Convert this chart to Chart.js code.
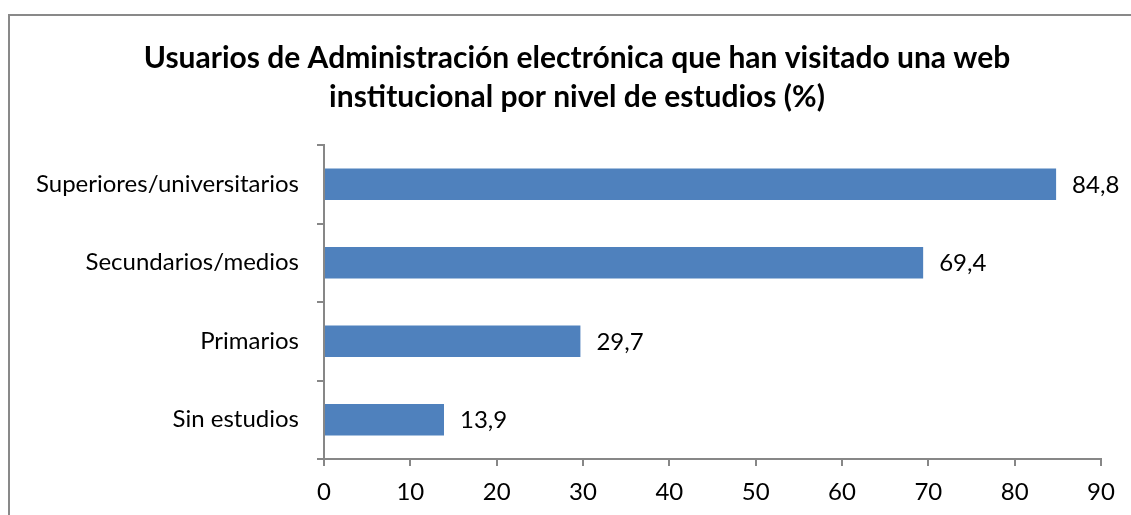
<!DOCTYPE html>
<html>
<head>
<meta charset="utf-8">
<script src="https://cdn.jsdelivr.net/npm/chart.js@4/dist/chart.umd.min.js"></script>
<style>
  html, body { margin: 0; padding: 0; background: #fff; }
  #wrap { position: relative; width: 1131px; height: 515px; overflow: hidden; }
  #frame {
    position: absolute; left: 8px; top: 14px; width: 1200px; height: 600px;
    border-left: 2px solid #898989; border-top: 2px solid #898989;
    pointer-events: none;
  }
  canvas { position: absolute; left: 0; top: 0; }
</style>
</head>
<body>
<div id="wrap">
  <canvas id="chart" width="1131" height="515"></canvas>
  <div id="frame"></div>
</div>
<script>
// datos
const categorias = ["Superiores/universitarios", "Secundarios/medios", "Primarios", "Sin estudios"];
const valores = [84.8, 69.4, 29.7, 13.9];
const tituloLineas = ["Usuarios de Administración electrónica que han visitado una web", "institucional por nivel de estudios (%)"];
const ejeX = { min: 0, max: 90, paso: 10 };

const FONT = "Lato, 'Open Sans', sans-serif";
const GRIS = "#878787";

// titulo centrado sobre el grafico
const tituloPlugin = {
  id: "titulo",
  afterDraw(chart) {
    const ctx = chart.ctx;
    ctx.save();
    ctx.font = "bold 30px " + FONT;
    ctx.fillStyle = "#000";
    ctx.textAlign = "center";
    ctx.textBaseline = "middle";
    ctx.fillText(tituloLineas[0], 577, 58);
    ctx.fillText(tituloLineas[1], 577, 97);
    ctx.restore();
  }
};

// etiquetas de valor al final de cada barra
const etiquetasPlugin = {
  id: "etiquetas",
  afterDatasetsDraw(chart) {
    const ctx = chart.ctx;
    const meta = chart.getDatasetMeta(0);
    ctx.save();
    ctx.font = "24px " + FONT;
    ctx.fillStyle = "#000";
    ctx.textAlign = "left";
    ctx.textBaseline = "middle";
    meta.data.forEach(function (bar, i) {
      ctx.fillText(valores[i].toFixed(1).replace(".", ","), bar.x + 16, bar.y + 1);
    });
    ctx.restore();
  }
};

const ctx = document.getElementById("chart").getContext("2d");
new Chart(ctx, {
  type: "bar",
  data: {
    labels: categorias,
    datasets: [
      {
        data: valores,
        backgroundColor: "#4F81BD",
        borderWidth: 0,
        barPercentage: 0.4,
        categoryPercentage: 1.0,
      },
    ],
  },
  options: {
    indexAxis: "y",
    responsive: false,
    animation: false,
    layout: { padding: { top: 145, right: 30, bottom: 0, left: 0 } },
    plugins: {
      legend: { display: false },
      title: { display: false },
      tooltip: { enabled: false },
    },
    scales: {
      x: {
        min: ejeX.min,
        max: ejeX.max,
        ticks: {
          stepSize: ejeX.paso,
          color: "#000",
          font: { family: FONT, size: 24 },
          padding: 12,
        },
        grid: {
          drawOnChartArea: false,
          drawTicks: true,
          tickLength: 7,
          color: GRIS,
          lineWidth: 2,
        },
        border: { display: true, color: GRIS, width: 2 },
        afterFit(scale) { scale.height = 56; },
      },
      y: {
        ticks: {
          color: "#000",
          font: { family: FONT, size: 24 },
          padding: 18,
        },
        grid: {
          offset: true,
          drawOnChartArea: false,
          drawTicks: true,
          tickLength: 7,
          color: GRIS,
          lineWidth: 2,
        },
        border: { display: true, color: GRIS, width: 2 },
        afterFit(scale) { scale.width = 324; },
      },
    },
  },
  plugins: [tituloPlugin, etiquetasPlugin],
});
</script>
</body>
</html>
